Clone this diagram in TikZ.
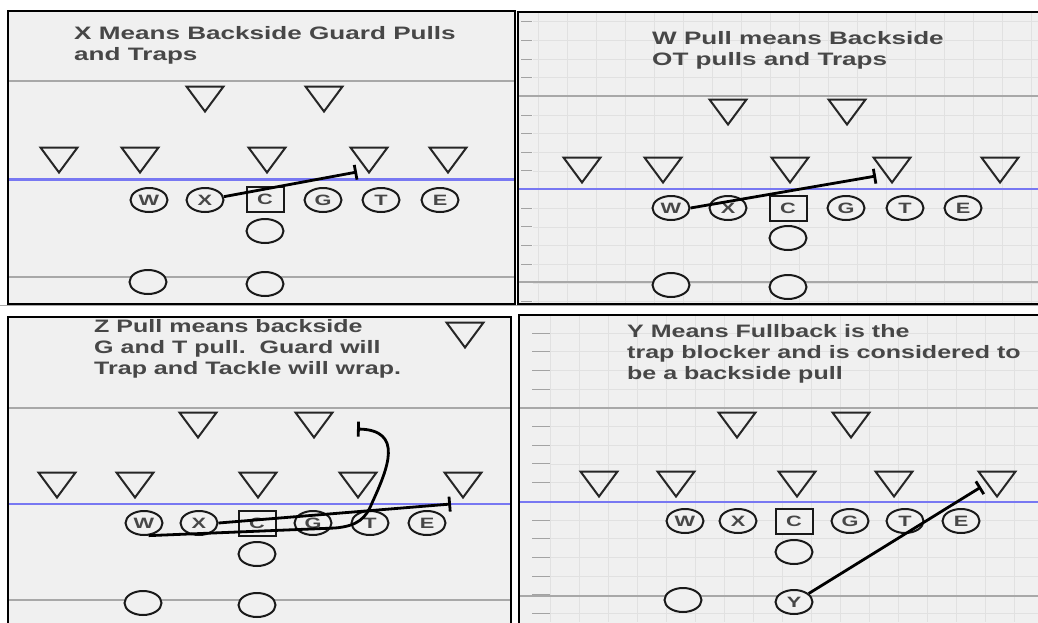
\documentclass[tikz,border=0pt]{standalone}
\usepackage{fontspec}
\usetikzlibrary{arrows.meta,shapes.geometric}
\newfontfamily\playfont[FakeStretch=1.45]{Liberation Sans}
\newfontfamily\playfontb[FakeStretch=1.39]{Liberation Sans}
\definecolor{panelbg}{HTML}{F0F0F0}
\definecolor{fieldgray}{HTML}{A8A8A8}
\definecolor{scrimblue}{HTML}{7878F2}
\definecolor{inkgray}{HTML}{474747}
\definecolor{gridgray}{HTML}{E1E1E1}
\definecolor{tickgray}{HTML}{A3A3A3}

\begin{document}
\begin{tikzpicture}[x=1pt, y=-1pt,
    panel/.style={fill=panelbg, draw=black, line width=2.2pt},
    yardline/.style={draw=fieldgray, line width=1.5pt},
    scrimmage/.style={draw=scrimblue, line width=2.8pt},
    gridline/.style={draw=gridgray, line width=0.6pt},
    tickline/.style={draw=tickgray, line width=0.9pt},
    note/.style={anchor=base west, align=left, inner sep=0pt, text=inkgray,
                 font=\playfont\bfseries\fontsize{18}{21}\selectfont},
    noteb/.style={note, font=\playfontb\bfseries\fontsize{18}{21}\selectfont},
    player/.style={ellipse, draw=black!90, line width=2pt, fill=panelbg,
                   minimum width=37pt, minimum height=24pt, inner sep=0pt,
                   text=inkgray, font=\playfont\bfseries\fontsize{15}{15}\selectfont},
    snapper/.style={player, rectangle, minimum height=25pt},
    defender/.pic={\draw[draw=black!85, line width=2pt]
                   (-18.5,-12.5) -- (18.5,-12.5) -- (0,12.5) -- cycle;},
    pull/.style={draw=black, line width=2.8pt, -{Bar[width=15pt, line width=2.8pt]}}]

    \useasboundingbox (0,0) rectangle (1038,622);

    % Panel backgrounds
    \draw[panel] (8,11) rectangle (515,304);
    \draw[panel] (518,12) rectangle (1042,304);
    \draw[panel] (8,317) rectangle (511,626);
    \draw[panel] (519,315) rectangle (1042,626);
    \draw[draw=fieldgray, line width=1pt] (0,305.5) -- (1038,305.5);

    % Grid paper
    \foreach \gx in {0,...,17} \draw[gridline] (538+29*\gx,13) -- (538+29*\gx,303);
    \foreach \gy in {0,...,15} {
        \draw[gridline] (533,21.7+18.65*\gy) -- (1038,21.7+18.65*\gy);
        \draw[tickline] (521,21.7+18.65*\gy) -- (532,21.7+18.65*\gy);
    }
    \foreach \gx in {0,...,16} \draw[gridline] (550+29*\gx,316) -- (550+29*\gx,622);
    \foreach \gy in {0,...,15} {
        \draw[gridline] (551,333+18.7*\gy) -- (1038,333+18.7*\gy);
        \draw[tickline] (532,333+18.7*\gy) -- (550,333+18.7*\gy);
    }

    % Yard lines
    \draw[yardline] (9,81) -- (514,81);
    \draw[yardline] (9,277) -- (514,277);
    \draw[scrimmage] (9,179.5) -- (514,179.5);
    \draw[yardline] (519,96) -- (1038,96);
    \draw[yardline] (519,282) -- (1038,282);
    \draw[scrimmage] (519,189) -- (1038,189);
    \draw[yardline] (9,408) -- (510,408);
    \draw[yardline] (9,600) -- (510,600);
    \draw[scrimmage] (9,504) -- (510,504);
    \draw[yardline] (520,408) -- (1038,408);
    \draw[yardline] (520,596) -- (1038,596);
    \draw[scrimmage] (520,502) -- (1038,502);

    % Panel 1
    \node[note] (p1note) at (74,60) {X Means Backside Guard Pulls\\and Traps};
    \pic (p1d1) at (205,99) {defender};
    \pic (p1d2) at (324,99) {defender};
    \pic (p1d3) at (59,160) {defender};
    \pic (p1d4) at (140,160) {defender};
    \pic (p1d5) at (267,160) {defender};
    \pic (p1d6) at (369,160) {defender};
    \pic (p1d7) at (448,160) {defender};
    \node[player] (p1w) at (149,200) {W};
    \node[player] (p1x) at (205,200) {X};
    \node[snapper] (p1c) at (265,199.5) {C};
    \node[player] (p1g) at (323,200) {G};
    \node[player] (p1t) at (381,200) {T};
    \node[player] (p1e) at (440,200) {E};
    \node[player] (p1b) at (265,231) {};
    \node[player] (p1h) at (148,282) {};
    \node[player] (p1f) at (265,284) {};
    \coordinate (p1end) at (357,172);
    \draw[pull] (p1x.10) -- (p1end);

    % Panel 2
    \node[note] (p2note) at (652,65) {W Pull means Backside\\OT pulls and Traps};
    \pic (p2d1) at (728,112) {defender};
    \pic (p2d2) at (847,112) {defender};
    \pic (p2d3) at (582,170) {defender};
    \pic (p2d4) at (663,170) {defender};
    \pic (p2d5) at (790,170) {defender};
    \pic (p2d6) at (892,170) {defender};
    \pic (p2d7) at (1000,170) {defender};
    \node[player] (p2w) at (671,208) {W};
    \node[player] (p2x) at (728,208) {X};
    \node[snapper] (p2c) at (788,208) {C};
    \node[player] (p2g) at (846,208) {G};
    \node[player] (p2t) at (905,208) {T};
    \node[player] (p2e) at (963,208) {E};
    \node[player] (p2b) at (788,238) {};
    \node[player] (p2h) at (671,285) {};
    \node[player] (p2f) at (788,287) {};
    \coordinate (p2end) at (876,176);
    \draw[pull] (p2w.east) -- (p2end);

    % Panel 3
    \node[noteb] (p3note) at (94,374) {Z Pull means backside\\G and T pull.\ \ Guard will\\Trap and Tackle will wrap.};
    \pic (p3d0) at (465,335) {defender};
    \pic (p3d1) at (198,425) {defender};
    \pic (p3d2) at (314,425) {defender};
    \pic (p3d3) at (57,485) {defender};
    \pic (p3d4) at (135,485) {defender};
    \pic (p3d5) at (258,485) {defender};
    \pic (p3d6) at (358,485) {defender};
    \pic (p3d7) at (463,485) {defender};
    \node[player] (p3w) at (144,523) {W};
    \node[player] (p3x) at (199,523) {X};
    \node[snapper] (p3c) at (257,523) {C};
    \node[player] (p3g) at (313,523) {G};
    \node[player] (p3t) at (370,523) {T};
    \node[player] (p3e) at (427,523) {E};
    \node[player] (p3b) at (257,554) {};
    \node[player] (p3h) at (143,603) {};
    \node[player] (p3f) at (257,605) {};
    \coordinate (p3trap) at (451,504);
    \coordinate (p3wrap) at (357,429);
    \draw[pull] (p3x.east) -- (p3trap);
    \draw[pull] (p3w.-70) -- (335,528) .. controls (358,526) and (366,518) .. (372,503)
        .. controls (388,468) and (404,430) .. (p3wrap);

    % Panel 4
    \node[noteb] (p4note) at (627,379) {Y Means Fullback is the\\trap blocker and is considered to\\be a backside pull};
    \pic (p4d1) at (737,425) {defender};
    \pic (p4d2) at (851,425) {defender};
    \pic (p4d3) at (599,484) {defender};
    \pic (p4d4) at (676,484) {defender};
    \pic (p4d5) at (797,484) {defender};
    \pic (p4d6) at (894,484) {defender};
    \pic (p4d7) at (997,484) {defender};
    \node[player] (p4w) at (685,521) {W};
    \node[player] (p4x) at (738,521) {X};
    \node[snapper] (p4c) at (794,521) {C};
    \node[player] (p4g) at (850,521) {G};
    \node[player] (p4t) at (905,521) {T};
    \node[player] (p4e) at (961,521) {E};
    \node[player] (p4b) at (794,552) {};
    \node[player] (p4h) at (683,600) {};
    \node[player] (p4y) at (794,602) {Y};
    \coordinate (p4end) at (981,487);
    \draw[pull] (p4y.30) -- (p4end);

\end{tikzpicture}
\end{document}
